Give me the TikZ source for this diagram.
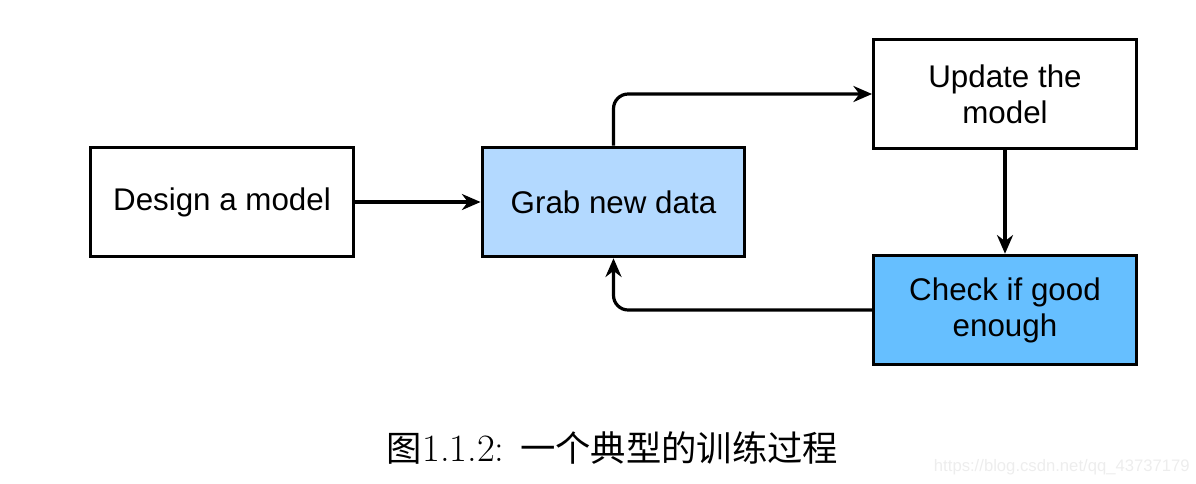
\documentclass[tikz,border=0pt]{standalone}
\usepackage{fontspec}
\setsansfont{Liberation Sans}
\newfontfamily\cjk{Noto Sans CJK SC}
\usetikzlibrary{arrows.meta}
\definecolor{lightblue}{RGB}{179,217,255}
\definecolor{midblue}{RGB}{102,191,255}
\begin{document}
\begin{tikzpicture}[x=0.75pt,y=-0.75pt,
  boxstyle/.style={draw, line width=2.4pt, minimum width=197pt, minimum height=82pt,
    align=center, inner sep=0pt, font=\sffamily\fontsize{23.5}{27}\selectfont},
  arr/.style={line width=2.4pt, -{Stealth[length=14pt,width=12pt,inset=4.5pt]}}]
\useasboundingbox (0,0) rectangle (1196,483);
\node[boxstyle, fill=white] (design) at (222,202) {Design a model};
\node[boxstyle, fill=lightblue] (grab) at (613.5,202) {Grab new data};
\node[boxstyle, fill=white] (update) at (1005,94) {Update the\\model};
\node[boxstyle, fill=midblue] (check) at (1005,310) {Check if good\\enough};
\draw[arr] (design) -- (grab);
\draw[arr, rounded corners=11pt] (grab.north) |- (update.west);
\draw[arr] (update) -- (check);
\draw[arr, rounded corners=11pt] (check.west) -| (grab.south);
\node[font=\fontsize{29}{32}\selectfont, inner sep=0pt] (cap) at (612.5,448)
  {{\cjk\fontsize{26.5}{30}\selectfont 图}1.1.2: {\cjk\fontsize{26.5}{30}\selectfont 一个典型的训练过程}};
\node[text=black!7, font=\sffamily\fontsize{12.5}{14}\selectfont, anchor=east, inner sep=0pt] (wm) at (1190,467) {https://blog.csdn.net/qq\_43737179};
\end{tikzpicture}
\end{document}
